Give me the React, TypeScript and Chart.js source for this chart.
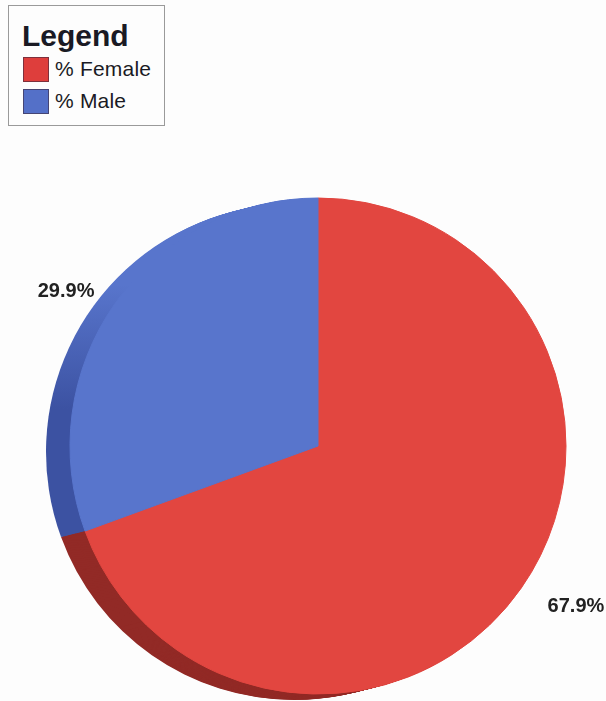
import React, { useEffect, useRef } from "react";
import { Chart, registerables } from "chart.js";

Chart.register(...registerables);

const categories = ["% Female", "% Male"];
const values = [67.9, 29.9];
const valueLabels = ["67.9%", "29.9%"];
const faceColors = ["rgb(226,70,64)", "rgb(88,117,204)"];
const sideColors = ["rgb(146,42,38)", "rgb(60,82,162)"];
const swatchColors = ["rgb(222,62,60)", "rgb(84,112,200)"];

const FONT = "'Liberation Sans', Arial, Helvetica, sans-serif";

const extrudePlugin = {
  id: "extrude",
  beforeDatasetsDraw(chart: any) {
    const ctx = chart.ctx;
    const meta = chart.getDatasetMeta(0);
    const N = 26;
    const dx = -24;
    const dy = 6;
    ctx.save();
    const fills = meta.data.map((arc: any, i: number) => {
      const p = arc.getProps(["x", "y", "outerRadius"], true);
      if (i === 1) {
        const g = ctx.createLinearGradient(0, p.y - p.outerRadius * 0.65, 0, p.y - p.outerRadius * 0.15);
        g.addColorStop(0, faceColors[1]);
        g.addColorStop(1, sideColors[1]);
        return g;
      }
      return sideColors[i];
    });
    for (let k = N; k >= 1; k--) {
      const ox = (dx * k) / N;
      const oy = (dy * k) / N;
      meta.data.forEach((arc: any, i: number) => {
        const p = arc.getProps(["x", "y", "startAngle", "endAngle", "outerRadius"], true);
        ctx.beginPath();
        ctx.moveTo(p.x + ox, p.y + oy);
        ctx.arc(p.x + ox, p.y + oy, p.outerRadius, p.startAngle, p.endAngle);
        ctx.closePath();
        ctx.fillStyle = fills[i];
        ctx.fill();
      });
    }
    ctx.restore();
  },
};

const labelPlugin = {
  id: "sliceLabels",
  afterDatasetsDraw(chart: any) {
    const ctx = chart.ctx;
    const meta = chart.getDatasetMeta(0);
    ctx.save();
    ctx.font = `bold 20px ${FONT}`;
    ctx.fillStyle = "#222222";
    ctx.textBaseline = "middle";
    meta.data.forEach((arc: any, i: number) => {
      const p = arc.getProps(["x", "y", "startAngle", "endAngle", "outerRadius"], true);
      const mid = (p.startAngle + p.endAngle) / 2;
      const r = p.outerRadius * 1.11;
      const right = Math.cos(mid) >= 0;
      const x = p.x + Math.cos(mid) * r + (right ? 4 : 2);
      const y = p.y + Math.sin(mid) * r + 3;
      ctx.textAlign = right ? "left" : "right";
      ctx.fillText(valueLabels[i], x, y);
    });
    ctx.restore();
  },
};

export default function App() {
  const canvasRef = useRef<HTMLCanvasElement | null>(null);

  useEffect(() => {
    if (!canvasRef.current) return;
    const chart = new Chart(canvasRef.current, {
      type: "pie",
      data: {
        labels: categories,
        datasets: [
          {
            data: values,
            backgroundColor: faceColors,
            borderColor: faceColors,
            borderWidth: 1,
          },
        ],
      },
      options: {
        responsive: false,
        maintainAspectRatio: false,
        animation: false,
        devicePixelRatio: 1,
        radius: 248,
        layout: { padding: { left: 70, right: 40, top: 198, bottom: 7 } },
        plugins: {
          legend: { display: false },
          tooltip: { enabled: false },
        },
      } as any,
      plugins: [extrudePlugin, labelPlugin],
    });
    return () => chart.destroy();
  }, []);

  const itemTops = [50, 82];

  return (
    <div style={{ position: "fixed", left: 0, top: 0, width: 606, height: 701, background: "#fdfdfd", overflow: "hidden" }}>
      <canvas ref={canvasRef} width={606} height={701} style={{ position: "absolute", left: 0, top: 0 }} />
      <div
        style={{
          position: "absolute",
          left: 8,
          top: 5,
          width: 157,
          height: 121,
          border: "1px solid #9a9a9a",
          boxSizing: "border-box",
          fontFamily: FONT,
          background: "#fdfdfd",
        }}
      >
        <div style={{ position: "absolute", left: 13, top: 13, fontSize: 30, fontWeight: "bold", lineHeight: "34px", color: "#1a1a24", whiteSpace: "nowrap" }}>
          Legend
        </div>
        {categories.map((c, i) => (
          <React.Fragment key={c}>
            <div
              style={{
                position: "absolute",
                left: 14,
                top: itemTops[i] + 1,
                width: 26,
                height: 25,
                background: swatchColors[i],
                boxSizing: "border-box",
                border: "1px solid rgba(60,40,60,0.6)",
              }}
            />
            <div style={{ position: "absolute", left: 46, top: itemTops[i], fontSize: 21, lineHeight: "25px", color: "#1a1a24", whiteSpace: "nowrap", letterSpacing: "0.2px" }}>
              {c}
            </div>
          </React.Fragment>
        ))}
      </div>
    </div>
  );
}
